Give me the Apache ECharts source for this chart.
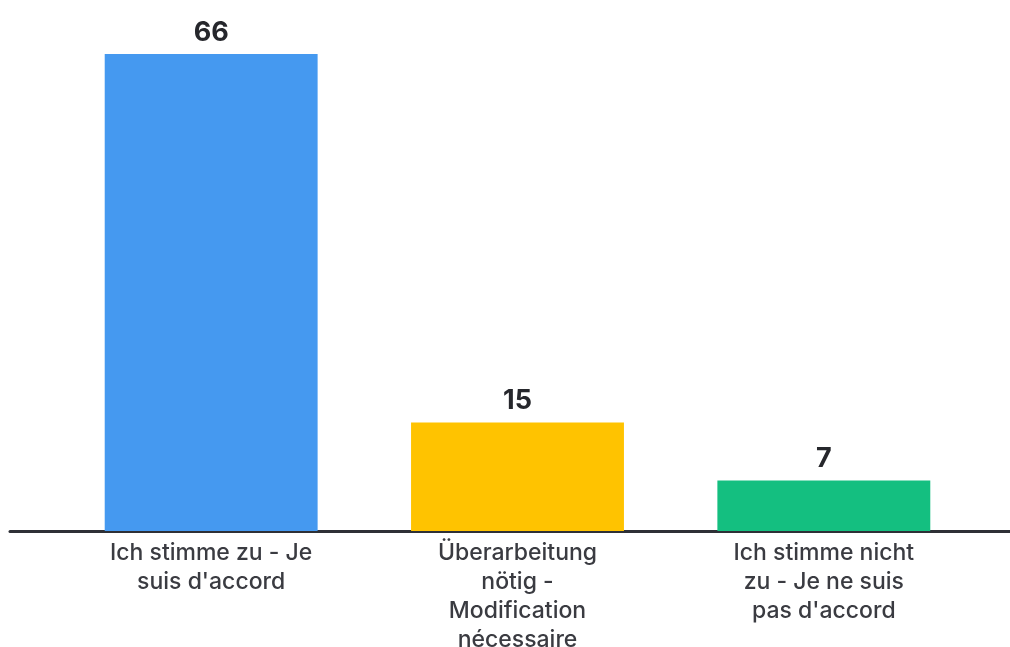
<!DOCTYPE html>
<html>
<head>
<meta charset="utf-8">
<script src="https://cdn.jsdelivr.net/npm/echarts@6/dist/echarts.min.js"></script>
<style>
  html, body { margin: 0; padding: 0; background: #ffffff; }
  #chart { width: 1010px; height: 647px; }
</style>
</head>
<body>
<div id="chart"></div>
<script>
// Survey answers (German - French)
const categories = [
  "Ich stimme zu - Je\nsuis d'accord",
  "Überarbeitung\nnötig -\nModification\nnécessaire",
  "Ich stimme nicht\nzu - Je ne suis\npas d'accord"
];
const counts = [66, 15, 7];
const barColors = ['#4599f0', '#ffc300', '#14bf80'];

const FONT = 'Inter, "Open Sans", sans-serif';

const chart = echarts.init(document.getElementById('chart'));
chart.setOption({
  backgroundColor: '#ffffff',
  animation: false,
  grid: [
    { left: 58, right: 33, top: 54, bottom: 116, outerBoundsMode: 'none', containLabel: false },
    // full-width baseline under the bars
    { left: 10, right: 0, top: 54, bottom: 116, outerBoundsMode: 'none', containLabel: false }
  ],
  xAxis: [
    {
      type: 'category',
      gridIndex: 0,
      data: categories,
      axisLine: { show: false },
      axisTick: { show: false },
      axisLabel: {
        interval: 0,
        margin: 8,
        fontFamily: FONT,
        fontSize: 23,
        fontWeight: 500,
        lineHeight: 29,
        color: '#3a3b41'
      }
    },
    {
      type: 'value',
      gridIndex: 1,
      min: 0,
      max: 1,
      axisLine: { show: true, lineStyle: { color: '#2e3036', width: 3 } },
      axisTick: { show: false },
      axisLabel: { show: false },
      splitLine: { show: false }
    }
  ],
  yAxis: [
    { type: 'value', gridIndex: 0, min: 0, max: 66, show: false },
    { type: 'value', gridIndex: 1, min: 0, max: 1, show: false }
  ],
  series: [
    {
      type: 'bar',
      xAxisIndex: 0,
      yAxisIndex: 0,
      barWidth: '69.5%',
      data: counts.map((v, i) => ({ value: v, itemStyle: { color: barColors[i] } })),
      label: {
        show: true,
        position: 'top',
        distance: 8,
        fontFamily: FONT,
        fontSize: 27,
        fontWeight: 'bold',
        color: '#26272c'
      },
      z: 2
    }
  ]
});
</script>
</body>
</html>
